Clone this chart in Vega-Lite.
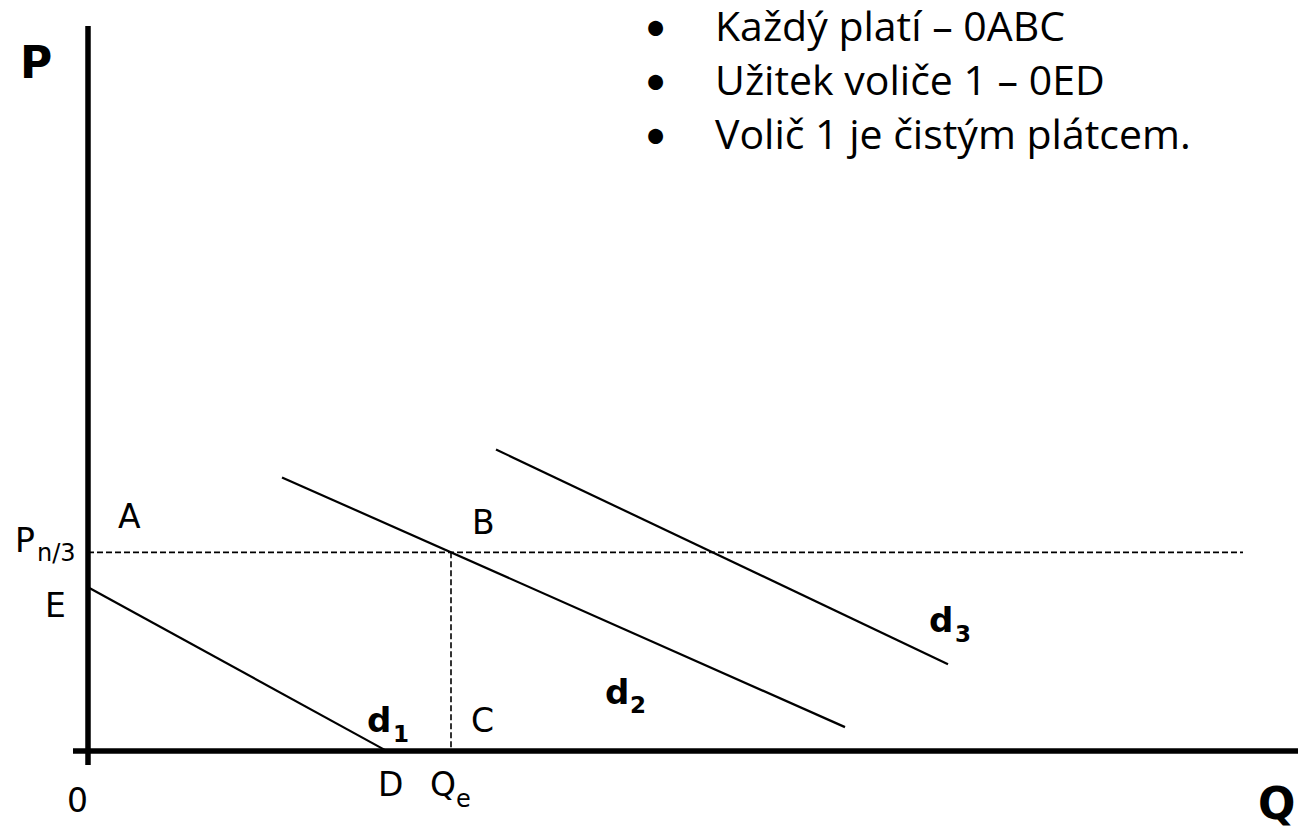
{
  "$schema": "https://vega.github.io/schema/vega-lite/v6.json",
  "width": 1301,
  "height": 828,
  "padding": 0,
  "autosize": {"type": "fit", "contains": "padding"},
  "config": {"view": {"stroke": null}},
  "datasets": {
    "axes": [
      {"x": 0, "y": -14, "x2": 0, "y2": 726},
      {"x": -15, "y": 0, "x2": 1210, "y2": 0}
    ],
    "curves": [
      {"name": "d1", "x": 0, "y": 164, "x2": 299, "y2": 0},
      {"name": "d2", "x": 194, "y": 274, "x2": 757, "y2": 24},
      {"name": "d3", "x": 408, "y": 302, "x2": 860, "y2": 87}
    ],
    "dashes": [
      {"x": 0, "y": 199, "x2": 1155, "y2": 199},
      {"x": 363, "y": 199, "x2": 363, "y2": 0}
    ],
    "axisTitles": [
      {"x": -68, "y": 674, "t": "P"},
      {"x": 1170, "y": -68, "t": "Q"}
    ],
    "points": [
      {"x": -21, "y": -61, "t": "0"},
      {"x": 30, "y": 223, "t": "A"},
      {"x": 384, "y": 217, "t": "B"},
      {"x": 383, "y": 19, "t": "C"},
      {"x": 290, "y": -45, "t": "D"},
      {"x": 342, "y": -45, "t": "Q"},
      {"x": -43, "y": 134, "t": "E"},
      {"x": -73, "y": 199, "t": "P"}
    ],
    "subs": [
      {"x": 368, "y": -56, "t": "e"},
      {"x": -51, "y": 190, "t": "n/3"}
    ],
    "dlabels": [
      {"x": 279, "y": 19, "t": "d"},
      {"x": 517, "y": 47, "t": "d"},
      {"x": 841, "y": 119, "t": "d"}
    ],
    "dsubs": [
      {"x": 305, "y": 9, "t": "1"},
      {"x": 542, "y": 38, "t": "2"},
      {"x": 867, "y": 109, "t": "3"}
    ],
    "bullets": [
      {"x": 627, "y": 711, "t": "Každý platí – 0ABC"},
      {"x": 627, "y": 657, "t": "Užitek voliče 1 – 0ED"},
      {"x": 627, "y": 603, "t": "Volič 1 je čistým plátcem."}
    ],
    "dots": [
      {"x": 556, "y": 711, "t": "•"},
      {"x": 556, "y": 657, "t": "•"},
      {"x": 556, "y": 603, "t": "•"}
    ]
  },
  "encoding": {
    "x": {"field": "x", "type": "quantitative", "scale": {"domain": [-88, 1213], "nice": false, "zero": false}, "axis": null},
    "y": {"field": "y", "type": "quantitative", "scale": {"domain": [-76, 752], "nice": false, "zero": false}, "axis": null}
  },
  "layer": [
    {
      "data": {"name": "axes"},
      "mark": {"type": "rule", "color": "black", "strokeWidth": 5.5},
      "encoding": {"x2": {"field": "x2"}, "y2": {"field": "y2"}}
    },
    {
      "data": {"name": "curves"},
      "mark": {"type": "rule", "color": "black", "strokeWidth": 2.2},
      "encoding": {"x2": {"field": "x2"}, "y2": {"field": "y2"}}
    },
    {
      "data": {"name": "dashes"},
      "mark": {"type": "rule", "color": "black", "strokeWidth": 1.6, "strokeDash": [6, 3]},
      "encoding": {"x2": {"field": "x2"}, "y2": {"field": "y2"}}
    },
    {
      "data": {"name": "axisTitles"},
      "mark": {"type": "text", "align": "left", "baseline": "alphabetic", "font": "DejaVu Sans", "fontWeight": "bold", "fontSize": 44, "color": "black"},
      "encoding": {"text": {"field": "t"}}
    },
    {
      "data": {"name": "points"},
      "mark": {"type": "text", "align": "left", "baseline": "alphabetic", "font": "DejaVu Sans", "fontSize": 33, "color": "black"},
      "encoding": {"text": {"field": "t"}}
    },
    {
      "data": {"name": "subs"},
      "mark": {"type": "text", "align": "left", "baseline": "alphabetic", "font": "DejaVu Sans", "fontSize": 24, "color": "black"},
      "encoding": {"text": {"field": "t"}}
    },
    {
      "data": {"name": "dlabels"},
      "mark": {"type": "text", "align": "left", "baseline": "alphabetic", "font": "DejaVu Sans", "fontWeight": "bold", "fontSize": 34, "color": "black"},
      "encoding": {"text": {"field": "t"}}
    },
    {
      "data": {"name": "dsubs"},
      "mark": {"type": "text", "align": "left", "baseline": "alphabetic", "font": "DejaVu Sans", "fontWeight": "bold", "fontSize": 23, "color": "black"},
      "encoding": {"text": {"field": "t"}}
    },
    {
      "data": {"name": "bullets"},
      "mark": {"type": "text", "align": "left", "baseline": "alphabetic", "font": "Open Sans", "fontSize": 41, "color": "black"},
      "encoding": {"text": {"field": "t"}}
    },
    {
      "data": {"name": "dots"},
      "mark": {"type": "text", "align": "left", "baseline": "alphabetic", "font": "Lato", "fontSize": 40, "color": "black"},
      "encoding": {"text": {"field": "t"}}
    }
  ]
}
